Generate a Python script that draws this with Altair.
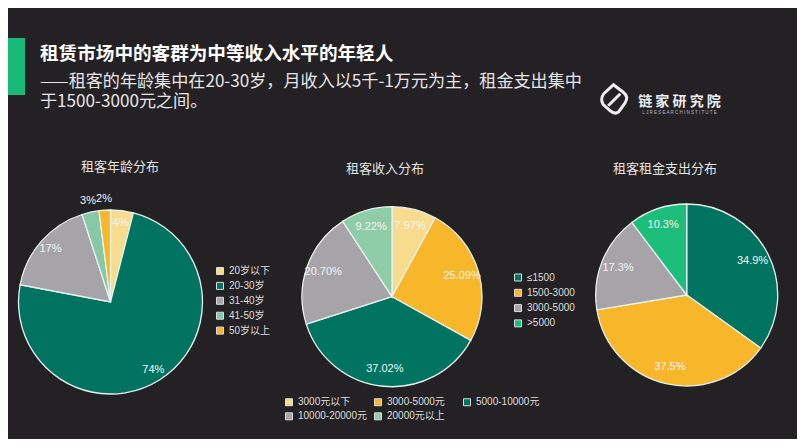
import altair as alt
import pandas as pd

# ---------------- text ----------------
TITLE = "租赁市场中的客群为中等收入水平的年轻人"
SUBTITLE_1 = "——租客的年龄集中在20-30岁，月收入以5千-1万元为主，租金支出集中"
SUBTITLE_2 = "于1500-3000元之间。"
BRAND = "链 家 研 究 院"
BRAND_EN = "L J R E S E A R C H    I N S T I T U T E"

# ---------------- data ----------------
AGE_TITLE = "租客年龄分布"
AGE_CATS = ["20岁以下", "20-30岁", "31-40岁", "41-50岁", "50岁以上"]
AGE_VALS = [4, 74, 17, 3, 2]
AGE_LABELS = ["4%", "74%", "17%", "3%", "2%"]

INCOME_TITLE = "租客收入分布"
INCOME_CATS = ["3000元以下", "3000-5000元", "5000-10000元", "10000-20000元", "20000元以上"]
INCOME_VALS = [7.97, 25.09, 37.02, 20.70, 9.22]
INCOME_LABELS = ["7.97%", "25.09%", "37.02%", "20.70%", "9.22%"]

RENT_TITLE = "租客租金支出分布"
RENT_CATS = ["≤1500", "1500-3000", "3000-5000", ">5000"]
RENT_VALS = [34.9, 37.5, 17.3, 10.3]
RENT_LABELS = ["34.9%", "37.5%", "17.3%", "10.3%"]

# ---------------- styles ----------------
YELLOW = "#f7dc8e"
GREEN = "#007461"
GRAY = "#a6a4a9"
LGREEN = "#86c9a5"
ORANGE = "#f8b62a"
BGREEN = "#1dbe7c"
AGE_COLORS = [YELLOW, GREEN, GRAY, LGREEN, ORANGE]
INCOME_COLORS = [YELLOW, ORANGE, GREEN, GRAY, "#8fcca8"]
RENT_COLORS = [GREEN, ORANGE, GRAY, BGREEN]

BG = "#242124"
CJK = "Noto Sans CJK SC"
LAT = "Liberation Sans, Noto Sans CJK SC"


def legend(x, y, row_pad, **kw):
    return alt.Legend(
        orient="none", legendX=x, legendY=y, title=None, padding=0,
        symbolType="square", symbolSize=49, symbolStrokeColor="#dcdcdc",
        symbolStrokeWidth=1, symbolOpacity=1, labelColor="#dedede", labelFont=LAT,
        labelFontSize=10, labelOffset=4, rowPadding=row_pad, **kw)


def pie(cats, vals, labels, colors, cx, cy, r, leg, label_r, outer_r=None):
    df = pd.DataFrame({"cat": cats, "v": vals, "lab": labels,
                       "idx": list(range(len(cats)))})
    base = alt.Chart(df)
    theta = alt.Theta("v:Q", stack=True)
    order = alt.Order("idx:Q")
    arc = base.mark_arc(x=cx, y=cy, radius=r, stroke="#e9f1ee", strokeWidth=1.3).encode(
        theta=theta,
        color=alt.Color("cat:N", scale=alt.Scale(domain=cats, range=colors), legend=leg),
        order=order,
    )
    tprops = dict(x=cx, y=cy, font=LAT, fontSize=11, color="#f4f4f4",
                  align="center", baseline="middle")
    layers = [arc]
    if outer_r:
        inner = base.transform_calculate(
            t="datum.v < 3.5 ? '' : datum.lab"
        ).mark_text(radius=label_r, **tprops).encode(
            theta=theta, text="t:N", detail="cat:N", order=order)
        outer = base.transform_calculate(
            t="datum.v < 3.5 ? datum.lab : ''"
        ).mark_text(radius=outer_r, **tprops).encode(
            theta=theta, text="t:N", detail="cat:N", order=order)
        layers += [inner, outer]
    else:
        layers.append(base.mark_text(radius=label_r, **tprops).encode(
            theta=theta, text="lab:N", detail="cat:N", order=order))
    return alt.layer(*layers)


def text(t, x, y, size, color, weight="normal", align="left", font=CJK):
    return alt.Chart(pd.DataFrame({"t": [t]})).mark_text(
        align=align, baseline="middle", fontSize=size, font=font,
        fontWeight=weight, color=color,
    ).encode(x=alt.value(x), y=alt.value(y), text="t:N")


bar = alt.Chart(pd.DataFrame({"a": [0]})).mark_rect(color="#19b97a").encode(
    x=alt.value(0), x2=alt.value(17), y=alt.value(30), y2=alt.value(87))

subtitle = alt.Chart(pd.DataFrame({"a": [0]})).mark_text(
    text=[SUBTITLE_1, SUBTITLE_2], lineHeight=20, align="left", baseline="middle",
    fontSize=17.1, font=CJK, color="#e6e6e6",
).encode(x=alt.value(32), y=alt.value(73.7))

LOGO_PATH = ("M -0.1 -0.95 L 0.55 -0.45 Q 0.95 -0.15 0.65 0.3 L 0.25 0.85 "
             "Q 0.0 1.05 -0.3 0.8 L -0.8 0.35 Q -1.0 0.0 -0.75 -0.35 Z "
             "M -0.45 0.45 L 0.35 -0.35")
logo = alt.Chart(pd.DataFrame({"a": [0]})).mark_point(
    shape=LOGO_PATH, size=900, filled=False, stroke="#eeeeee", strokeWidth=3,
    opacity=1).encode(x=alt.value(607), y=alt.value(91))

p1 = pie(AGE_CATS, AGE_VALS, AGE_LABELS, AGE_COLORS, 102.5, 294, 92,
         legend(207, 258, 2.9), 80, outer_r=103)
p2 = pie(INCOME_CATS, INCOME_VALS, INCOME_LABELS, INCOME_COLORS, 384, 288.7, 90,
         legend(276, 389, 2.3, columns=3, direction="horizontal", gridAlign="all",
                columnPadding=5), 73)
p3 = pie(RENT_CATS, RENT_VALS, RENT_LABELS, RENT_COLORS, 678.7, 287, 91,
         legend(505, 264.5, 3.3), 74)

chart = alt.layer(
    bar,
    text(TITLE, 32, 46, 18.6, "#ffffff", weight="bold"),
    subtitle,
    logo,
    text(BRAND, 671.5, 94, 14, "#eeeeee", weight="bold", align="center"),
    text(BRAND_EN, 671.5, 104.7, 4.5, "#bbbbbb", align="center", font=LAT),
    text(AGE_TITLE, 112, 159, 13, "#e2e2e2", align="center"),
    text(INCOME_TITLE, 377, 161, 13, "#e2e2e2", align="center"),
    text(RENT_TITLE, 657, 161, 13, "#e2e2e2", align="center"),
    p1, p2, p3,
).resolve_scale(
    theta="independent", color="independent"
).properties(
    width=789, height=431, padding=0, background=BG,
    autosize=alt.AutoSizeParams(type="none"),
).configure_view(strokeWidth=0)

chart.save("out.html", embed_options={"renderer": "svg", "actions": False})
